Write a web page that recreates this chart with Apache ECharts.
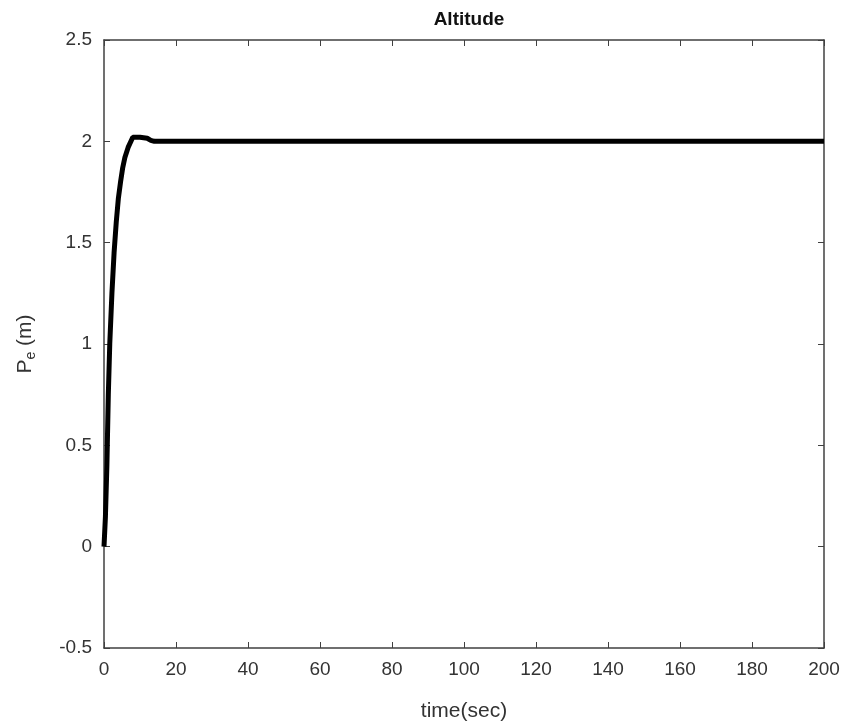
<!DOCTYPE html>
<html>
<head>
<meta charset="utf-8">
<script src="https://cdn.jsdelivr.net/npm/echarts@6/dist/echarts.min.js"></script>
<style>
  html, body { margin: 0; padding: 0; background: #fff; }
  #chart { width: 843px; height: 727px; }
</style>
</head>
<body>
<div id="chart"></div>
<script>
// 高度响应曲线
var timeSec = [0, 0.4, 0.8, 1.2, 1.6, 2.2, 2.8, 3.4, 4.0, 4.6, 5.2, 5.8, 6.7, 8.0, 10, 12, 13, 14, 50, 100, 150, 200];
var altitude = [0, 0.15, 0.4, 0.75, 1.0, 1.25, 1.45, 1.6, 1.72, 1.8, 1.87, 1.92, 1.97, 2.02, 2.02, 2.015, 2.005, 2.0, 2.0, 2.0, 2.0, 2.0];
var xTicks = [0, 20, 40, 60, 80, 100, 120, 140, 160, 180, 200];
var yTicks = [-0.5, 0, 0.5, 1, 1.5, 2, 2.5];

var points = [];
for (var i = 0; i < timeSec.length; i++) {
    points.push([timeSec[i], altitude[i]]);
}

var axisColor = '#404040',
    labelColor = '#333',
    fontFamily = '"Liberation Sans", Arial, sans-serif';

function boxAxis(pos, ticks, showLabel, extra) {
    return Object.assign({
        type: 'value',
        position: pos,
        min: ticks[0],
        max: ticks[ticks.length - 1],
        interval: ticks[1] - ticks[0],
        axisLine: { show: true, onZero: false, lineStyle: { color: axisColor, width: 1.5 } },
        axisTick: { show: true, inside: true, length: 6, lineStyle: { color: axisColor, width: 1 } },
        axisLabel: {
            show: showLabel,
            color: labelColor,
            fontSize: 19,
            fontFamily: fontFamily,
            showMinLabel: true,
            showMaxLabel: true
        },
        splitLine: { show: false }
    }, extra || {});
}

var chart = echarts.init(document.getElementById('chart'));
chart.setOption({
    animation: false,
    backgroundColor: '#fff',
    title: {
        text: 'Altitude',
        left: 464,
        textAlign: 'center',
        top: 5,
        textStyle: { fontSize: 19, fontWeight: 'bold', color: '#111', fontFamily: fontFamily }
    },
    grid: { left: 104, right: 19, top: 40, bottom: 79 },
    xAxis: [
        boxAxis('bottom', xTicks, true, {
            name: 'time(sec)',
            nameLocation: 'middle',
            nameGap: 53,
            nameTextStyle: { fontSize: 21, color: labelColor, fontFamily: fontFamily },
            axisLabel: { color: labelColor, fontSize: 19, fontFamily: fontFamily, margin: 12 }
        }),
        boxAxis('top', xTicks, false)
    ],
    yAxis: [
        boxAxis('left', yTicks, true, {
            name: 'P{sub|e} (m)',
            nameLocation: 'middle',
            nameGap: 66,
            nameRotate: 90,
            nameTextStyle: {
                fontSize: 21,
                color: labelColor,
                fontFamily: fontFamily,
                rich: { sub: { fontSize: 14, verticalAlign: 'bottom', padding: [12, 0, 0, 0], color: labelColor, fontFamily: fontFamily } }
            },
            axisLabel: { color: labelColor, fontSize: 19, fontFamily: fontFamily, margin: 12 }
        }),
        boxAxis('right', yTicks, false)
    ],
    series: [{
        type: 'line',
        data: points,
        showSymbol: false,
        smooth: false,
        lineStyle: { color: '#000', width: 5 },
        xAxisIndex: 0,
        yAxisIndex: 0
    }]
});
</script>
</body>
</html>
